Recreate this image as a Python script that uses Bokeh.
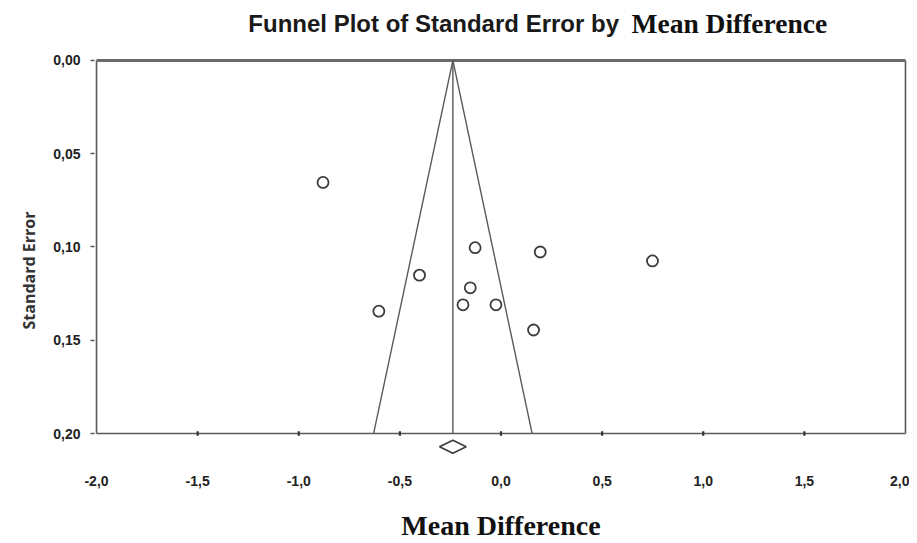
from bokeh.plotting import figure
from bokeh.models import Range1d, FixedTicker, Label, Title
from bokeh.embed import file_html
from bokeh.resources import INLINE

# ---- data ----
mean_diff = [-0.880, -0.128, 0.194, 0.749, -0.403, -0.152, -0.188, -0.025, -0.604, 0.161]
std_error = [0.0654, 0.1004, 0.1027, 0.1075, 0.1151, 0.1219, 0.1310, 0.1310, 0.1344, 0.1445]
pooled_mean = -0.238
pooled_ci_low = -0.304
pooled_ci_high = -0.172
z_crit = 1.96
se_max = 0.20
x_min, x_max = -2.0, 2.0
x_ticks = [-2.0, -1.5, -1.0, -0.5, 0.0, 0.5, 1.0, 1.5, 2.0]
x_tick_labels = ["-2,0", "-1,5", "-1,0", "-0,5", "0,0", "0,5", "1,0", "1,5", "2,0"]
y_ticks = [0.0, 0.05, 0.10, 0.15, 0.20]
y_tick_labels = ["0,00", "0,05", "0,10", "0,15", "0,20"]
title_part1 = "Funnel Plot of Standard Error by"
title_part2 = "Mean Difference"
x_label = "Mean Difference"
y_label = "Standard Error"

SANS = "Liberation Sans"
SERIF = "Liberation Serif"
LINE = "#5a5a5a"

p = figure(width=909, height=543, output_backend="svg", toolbar_location=None, title=None,
           x_range=Range1d(x_min - 0.01, x_max + 0.01),
           y_range=Range1d(0.2198, -0.0321),
           min_border_left=94, min_border_right=2, min_border_top=0, min_border_bottom=72)
p.outline_line_color = None
p.xgrid.grid_line_color = None
p.ygrid.grid_line_color = None
p.background_fill_color = "white"
p.border_fill_color = "white"

# x axis
xa = p.xaxis[0]
xa.ticker = FixedTicker(ticks=x_ticks)
xa.major_label_overrides = {t: l for t, l in zip(x_ticks, x_tick_labels)}
xa.axis_line_color = None
xa.major_tick_line_color = None
xa.minor_tick_line_color = None
xa.major_tick_in = 0
xa.major_tick_out = 0
xa.major_label_standoff = 5
xa.major_label_text_font = SANS
xa.major_label_text_font_style = "bold"
xa.major_label_text_font_size = "14px"
xa.major_label_text_color = "#222222"
xa.axis_label = x_label
xa.axis_label_text_font = SERIF
xa.axis_label_text_font_style = "bold"
xa.axis_label_text_font_size = "28px"
xa.axis_label_text_color = "#111111"
xa.axis_label_standoff = 21

# y axis
ya = p.yaxis[0]
ya.ticker = FixedTicker(ticks=y_ticks)
ya.major_label_overrides = {t: l for t, l in zip(y_ticks, y_tick_labels)}
ya.axis_line_color = None
ya.major_tick_line_color = LINE
ya.major_tick_line_width = 1.5
ya.minor_tick_line_color = None
ya.major_tick_in = 0
ya.major_tick_out = 4
ya.major_label_standoff = 10
ya.major_label_text_font = SANS
ya.major_label_text_font_style = "bold"
ya.major_label_text_font_size = "14px"
ya.major_label_text_color = "#222222"

p.add_layout(Title(text=y_label, align="left", offset=141, standoff=22,
                   text_font="Open Sans", text_font_style="bold", text_font_size="16px",
                   text_color="#333333"), "left")

# plot frame
p.segment(x0=[x_min, x_max, x_min], y0=[0.0, 0.0, se_max],
          x1=[x_min, x_max, x_max], y1=[se_max, se_max, se_max],
          line_color=LINE, line_width=1.6)
p.segment(x0=[x_min], y0=[0.0], x1=[x_max], y1=[0.0], line_color="#6a6a6a", line_width=3)

# x ticks on the axis line
p.segment(x0=x_ticks[1:-1], y0=[se_max - 0.0012] * (len(x_ticks) - 2),
          x1=x_ticks[1:-1], y1=[se_max + 0.0012] * (len(x_ticks) - 2),
          line_color="#333333", line_width=2.2)

# funnel
p.line(x=[pooled_mean - z_crit * se_max, pooled_mean, pooled_mean + z_crit * se_max],
       y=[se_max, 0.0, se_max], line_color=LINE, line_width=1.4)
p.segment(x0=[pooled_mean], y0=[0.0], x1=[pooled_mean], y1=[se_max], line_color=LINE, line_width=1.4)

# studies
p.scatter(x=mean_diff, y=std_error, marker="circle", size=11, fill_color="white",
          line_color="#3c3c3c", line_width=1.8)

# pooled diamond
d_y = se_max + 0.0071
d_h = 0.0035
p.patch(x=[pooled_ci_low, pooled_mean, pooled_ci_high, pooled_mean],
        y=[d_y, d_y - d_h, d_y, d_y + d_h], fill_color="white",
        line_color="#3c3c3c", line_width=1.6)

# title (two parts, different fonts)
p.add_layout(Label(x=-0.333, y=-0.0198, text=title_part1, text_align="center",
                   text_baseline="middle", text_font=SANS, text_font_style="bold",
                   text_font_size="24px", text_color="#1a1a1a"))
p.add_layout(Label(x=1.129, y=-0.0198, text=title_part2, text_align="center",
                   text_baseline="middle", text_font=SERIF, text_font_style="bold",
                   text_font_size="27.5px", text_color="#111111"))

open("out.html", "w").write(file_html(p, INLINE))
